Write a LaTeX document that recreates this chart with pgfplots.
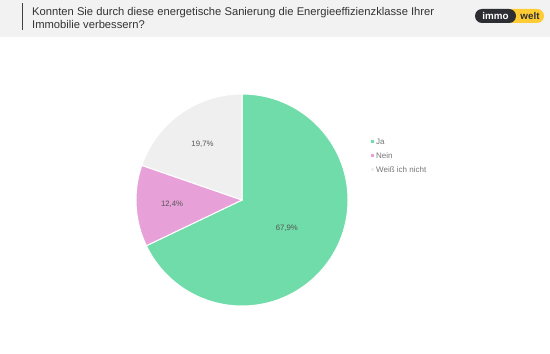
\documentclass[border=0pt]{standalone}
\usepackage{pgfplots}
\usepackage{pgfplotstable}
\pgfplotsset{compat=1.18}
\usepackage{fontspec}
\setmainfont{Liberation Sans}
\definecolor{cJa}{HTML}{6FDCA9}
\definecolor{cNein}{HTML}{E8A1D8}
\definecolor{cWeiss}{HTML}{EFEFEF}
\definecolor{band}{HTML}{F2F2F2}
\definecolor{txt}{HTML}{333333}
\definecolor{lbl}{HTML}{555555}
\definecolor{leg}{HTML}{777777}
\definecolor{logodark}{HTML}{2D2E33}
\definecolor{logoyellow}{HTML}{FFCC33}
\pgfplotstableread{
label value
Ja 67.9
Nein 12.4
Weiss 19.7
}\piedata
\pgfplotstablegetelem{0}{value}\of\piedata \let\vA\pgfplotsretval
\pgfplotstablegetelem{1}{value}\of\piedata \let\vB\pgfplotsretval
\pgfplotstablegetelem{2}{value}\of\piedata \let\vC\pgfplotsretval
\pgfmathsetmacro{\aZ}{90}
\pgfmathsetmacro{\aA}{90-3.6*\vA}
\pgfmathsetmacro{\aB}{\aA-3.6*\vB}
\pgfmathsetmacro{\aC}{\aB-3.6*\vC}
\pgfmathsetmacro{\mA}{(\aZ+\aA)/2}
\pgfmathsetmacro{\mB}{(\aA+\aB)/2}
\pgfmathsetmacro{\mC}{(\aB+\aC)/2}
\begin{document}
\begin{tikzpicture}[x=1pt,y=1pt]
\fill[white] (0,0) rectangle (550,354);
\fill[band] (0,317) rectangle (550,354);
\draw[black!75, line width=1pt] (22,324) -- (22,351);
\node[anchor=north west, align=left, font=\fontsize{11.2}{13.5}\selectfont, text=txt, inner sep=0pt] at (32,347)
  {Konnten Sie durch diese energetische Sanierung die Energieeffizienzklasse Ihrer\\Immobilie verbessern?};
% logo
\fill[logoyellow, rounded corners=7pt] (505,331) rectangle (544,345);
\fill[logodark, rounded corners=7pt] (475,331) rectangle (516,345);
\node[font=\bfseries\fontsize{9.8}{10}\selectfont, text=white, inner sep=0pt] at (495.5,338.5) {immo};
\node[font=\bfseries\fontsize{9.8}{10}\selectfont, text=logodark, inner sep=0pt] at (530,338.5) {welt};
\begin{axis}[at={(242pt,154pt)}, anchor=center, x=106pt, y=106pt,
  xmin=-1.1, xmax=1.1, ymin=-1.1, ymax=1.1, hide axis, clip=false]
\fill[cJa, draw=white, line width=1pt] (axis cs:0,0) -- ++(\aZ:106pt) arc[start angle=\aZ, end angle=\aA, radius=106pt] -- cycle;
\fill[cNein, draw=white, line width=1pt] (axis cs:0,0) -- ++(\aA:106pt) arc[start angle=\aA, end angle=\aB, radius=106pt] -- cycle;
\fill[cWeiss, draw=white, line width=1pt] (axis cs:0,0) -- ++(\aB:106pt) arc[start angle=\aB, end angle=\aC, radius=106pt] -- cycle;
\node[font=\fontsize{7.8}{9}\selectfont, text=lbl] at (axis cs:0,0) [shift={(\mA:53pt)}] {67,9\%};
\node[font=\fontsize{7.8}{9}\selectfont, text=lbl] at (axis cs:0,0) [shift={(\mB:70pt)}] {12,4\%};
\node[font=\fontsize{7.8}{9}\selectfont, text=lbl] at (axis cs:0,0) [shift={(\mC:68pt)}] {19,7\%};
\end{axis}
% legend
\fill[cJa] (370.5,210.5) rectangle (373.5,213.5);
\fill[cNein] (370.5,196.5) rectangle (373.5,199.5);
\fill[cWeiss] (370.5,182.5) rectangle (373.5,185.5);
\node[anchor=west, font=\fontsize{8}{9}\selectfont, text=leg, inner sep=0pt] at (376,212) {Ja};
\node[anchor=west, font=\fontsize{8}{9}\selectfont, text=leg, inner sep=0pt] at (376,198) {Nein};
\node[anchor=west, font=\fontsize{8}{9}\selectfont, text=leg, inner sep=0pt] at (376,184) {Weiß ich nicht};
\end{tikzpicture}
\end{document}
